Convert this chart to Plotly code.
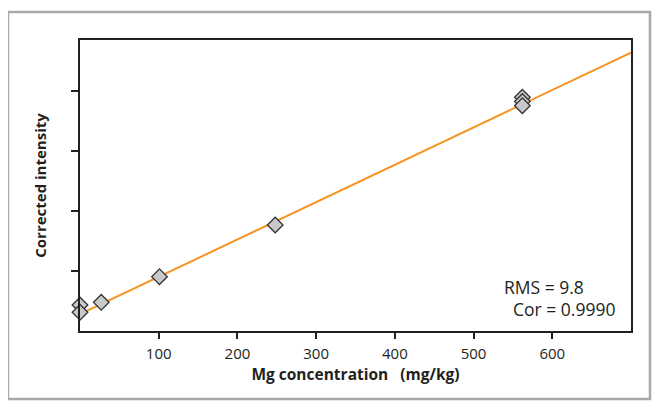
import plotly.graph_objects as go

# Data
mg_conc = [0, 0, 27, 101, 248, 562, 562, 562]
intensity = [43.3, 31.2, 47.8, 90.5, 176.7, 389.5, 382.5, 375.5]
fit_x = [0, 700]
fit_y = [28, 464]
x_ticks = [100, 200, 300, 400, 500, 600]
y_ticks = [100, 200, 300, 400]
stats_text = ["RMS = 9.8", "Cor = 0.9990"]

OFF = 8  # default page body margin
W, H = 669 - OFF, 411 - OFF
# plot area in window pixels
L, R, T, B = 80, 631, 40, 331
pw, ph = R - L, B - T


def px(x):
    return (x - L) / pw


def py(y):
    return (B - y) / ph


font_fam = "Open Sans, Noto Sans, sans-serif"
txt_col = "#231f20"

fig = go.Figure()
fig.add_trace(go.Scatter(x=fit_x, y=fit_y, mode="lines",
                         line=dict(color="#f7931e", width=2), showlegend=False,
                         hoverinfo="skip"))
fig.add_trace(go.Scatter(x=mg_conc, y=intensity, mode="markers", cliponaxis=False,
                         marker=dict(symbol="diamond", size=12, color="#c8c9cb",
                                     line=dict(color="#333333", width=1.3)),
                         showlegend=False))

fig.update_layout(
    width=W, height=H,
    margin=dict(l=L - OFF, r=669 - R, t=T - OFF, b=411 - B),
    paper_bgcolor="white", plot_bgcolor="white",
    font=dict(family=font_fam, size=15, color=txt_col),
    xaxis=dict(range=[0, 700], tickvals=x_ticks, ticks="outside", ticklen=6,
               tickwidth=2, tickcolor="#231f20", showline=True, linecolor="#231f20",
               linewidth=2, mirror=True, showgrid=False, zeroline=False,
               tickfont=dict(size=15), ticklabelstandoff=2,
               title=dict(text="<b>Mg concentration\u00a0\u00a0 (mg/kg)</b>", standoff=6,
                          font=dict(size=15.5))),
    yaxis=dict(range=[0, 485], tickvals=y_ticks, ticks="outside", ticklen=7,
               tickwidth=2, tickcolor="#231f20", showline=True, linecolor="#231f20",
               linewidth=2, mirror=True, showgrid=False, zeroline=False,
               showticklabels=False,
               title=dict(text="<b>Corrected intensity</b>", standoff=21,
                          font=dict(size=15))),
    shapes=[dict(type="rect", xref="paper", yref="paper",
                 x0=px(8), x1=px(650), y0=py(399), y1=py(12),
                 line=dict(color="#a7a9ac", width=2.5), layer="below")],
    annotations=[
        dict(x=536, y=73.3, xref="x", yref="y", text=stats_text[0], showarrow=False,
             xanchor="left", yanchor="middle", font=dict(size=17.5)),
        dict(x=547, y=36.7, xref="x", yref="y", text=stats_text[1], showarrow=False,
             xanchor="left", yanchor="middle", font=dict(size=17.5)),
    ],
)

fig.write_html("out.html")
